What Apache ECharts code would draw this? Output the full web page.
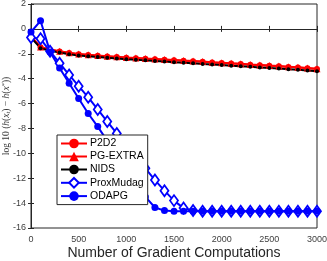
<!DOCTYPE html>
<html><head><meta charset="utf-8">
<script src="https://cdn.jsdelivr.net/npm/echarts@6/dist/echarts.min.js"></script>
<style>html,body{margin:0;padding:0;background:#fff}#c{width:327px;height:261px}</style>
</head><body><div id="c"></div>
<script>
var xs = [0,100,200,300,400,500,600,700,800,900,1000,1100,1200,1300,1400,1500,1600,1700,1800,1900,2000,2100,2200,2300,2400,2500,2600,2700,2800,2900,3000];
var p2d2 = [-0.62,-1.47,-1.67,-1.82,-1.94,-2.04,-2.1,-2.16,-2.21,-2.26,-2.31,-2.35,-2.4,-2.44,-2.48,-2.52,-2.57,-2.61,-2.65,-2.7,-2.74,-2.79,-2.83,-2.88,-2.92,-2.97,-3.01,-3.06,-3.11,-3.16,-3.22];
var pgextra = [-0.6,-1.45,-1.65,-1.8,-1.92,-2.02,-2.08,-2.14,-2.19,-2.24,-2.29,-2.33,-2.38,-2.42,-2.46,-2.5,-2.55,-2.59,-2.63,-2.68,-2.72,-2.77,-2.81,-2.86,-2.9,-2.95,-2.99,-3.04,-3.09,-3.14,-3.2];
var nids = [-0.7,-1.55,-1.75,-1.9,-2.03,-2.13,-2.2,-2.26,-2.32,-2.38,-2.43,-2.48,-2.53,-2.58,-2.63,-2.68,-2.72,-2.77,-2.82,-2.86,-2.91,-2.96,-3.0,-3.05,-3.1,-3.14,-3.19,-3.24,-3.29,-3.34,-3.4];
var proxmudag = [-0.7,-0.8,-1.8,-2.76,-3.7,-4.6,-5.5,-6.47,-7.45,-8.4,-9.3,-10.25,-11.2,-12.15,-13.0,-13.8,-14.4,-14.6,-14.65,-14.65,-14.65,-14.65,-14.65,-14.65,-14.65,-14.65,-14.65,-14.65,-14.65,-14.65,-14.65];
var odapg = [-0.25,0.65,-1.85,-3.15,-4.37,-5.6,-6.8,-7.85,-9.0,-10.15,-11.25,-12.4,-13.5,-14.35,-14.6,-14.65,-14.65,-14.65,-14.65,-14.65,-14.65,-14.65,-14.65,-14.65,-14.65,-14.65,-14.65,-14.65,-14.65,-14.65,-14.65];
var names = ['P2D2','PG-EXTRA','NIDS','ProxMudag','ODAPG'];
var xTicks = [0,500,1000,1500,2000,2500,3000];
var yTicks = [-16,-14,-12,-10,-8,-6,-4,-2,0,2];

function pairs(v){ return xs.map(function(x,i){ return [x, v[i]]; }); }
var chart = echarts.init(document.getElementById('c'), null, {renderer:'canvas'});
var tickLbl = {color:'#404040', fontSize:9, fontFamily:'Liberation Sans, Arial, sans-serif'};
function mk(name, data, color, symbol, size, hollow){
  return {name:name, type:'line', data:pairs(data), symbol:symbol, symbolSize:size, showSymbol:true,
    lineStyle:{color:color, width:2}, itemStyle:{color: hollow ? '#ffffff' : color, borderColor:color, borderWidth: hollow ? 1.8 : 0},
    emphasis:{disabled:true}, animation:false, z:2};
}
var ser = 'Liberation Serif, DejaVu Serif, serif';
chart.setOption({
  animation:false,
  grid:{left:31, right:10, top:4, bottom:33, containLabel:false, outerBoundsMode:'none', show:true, borderColor:'#262626', borderWidth:1, backgroundColor:'transparent'},
  legend:{orient:'vertical', left:57, top:135, padding:[3,4,3,3], itemWidth:26, itemHeight:12, itemGap:2,
    backgroundColor:'#fff', borderColor:'#262626', borderWidth:1, borderRadius:0,
    textStyle:{fontSize:10.5, color:'#000', fontFamily:'Liberation Sans, Arial, sans-serif', padding:[0,0,0,-2]},
    data:names},
  xAxis:[{type:'value', min:0, max:3000, interval:500, position:'bottom',
    axisLine:{show:true, lineStyle:{color:'#262626'}}, axisTick:{inside:true, length:3, lineStyle:{color:'#262626'}},
    axisLabel:Object.assign({margin:7, formatter:function(v){return xTicks.indexOf(v)>=0?String(v):'';}}, tickLbl),
    splitLine:{show:false},
    name:'Number of Gradient Computations', nameLocation:'middle', nameGap:18, nameMoveOverlap:false,
    nameTextStyle:{fontSize:14, color:'#262626', fontFamily:'Liberation Sans, Arial, sans-serif'}},
   {type:'value', min:0, max:3000, interval:500, position:'top', axisLine:{show:true, lineStyle:{color:'#262626'}},
    axisTick:{inside:true, length:3, lineStyle:{color:'#262626'}}, axisLabel:{show:false}, splitLine:{show:false}}],
  yAxis:[{type:'value', min:-16, max:2, interval:2, position:'left',
    axisLine:{show:true, lineStyle:{color:'#262626'}}, axisTick:{inside:true, length:3, lineStyle:{color:'#262626'}},
    axisLabel:Object.assign({margin:5, formatter:function(v){return yTicks.indexOf(v)>=0?String(v):'';}}, tickLbl),
    splitLine:{show:false},
    name:'{n|log 10 (}{i|h}{n|(}{i|x}{s|t}{n|) − }{i|h}{n|(}{i|x}{p|*}{n|))}', nameLocation:'middle', nameGap:19, nameRotate:90, nameMoveOverlap:false,
    nameTextStyle:{fontSize:9.5, color:'#333', fontFamily:ser, lineHeight:11,
      rich:{n:{fontSize:9.5, fontFamily:ser, color:'#333', lineHeight:11},
            i:{fontSize:9.5, fontStyle:'italic', fontFamily:ser, color:'#333', lineHeight:11},
            s:{fontSize:6.5, fontStyle:'italic', fontFamily:ser, color:'#333', lineHeight:11, verticalAlign:'bottom'},
            p:{fontSize:6.5, fontFamily:ser, color:'#333', lineHeight:11, verticalAlign:'top'}}}},
   {type:'value', min:-16, max:2, interval:2, position:'right', axisLine:{show:true, lineStyle:{color:'#262626'}},
    axisTick:{inside:true, length:3, lineStyle:{color:'#262626'}}, axisLabel:{show:false}, splitLine:{show:false}}],
  series:[
    mk('P2D2', p2d2, '#ff0000', 'circle', 6, false),
    mk('PG-EXTRA', pgextra, '#ff0000', 'triangle', 7, false),
    mk('NIDS', nids, '#000000', 'circle', 4, false),
    mk('ProxMudag', proxmudag, '#0000ff', 'diamond', [8,11], true),
    mk('ODAPG', odapg, '#0000ff', 'circle', 7, false)
  ]
});
</script></body></html>
